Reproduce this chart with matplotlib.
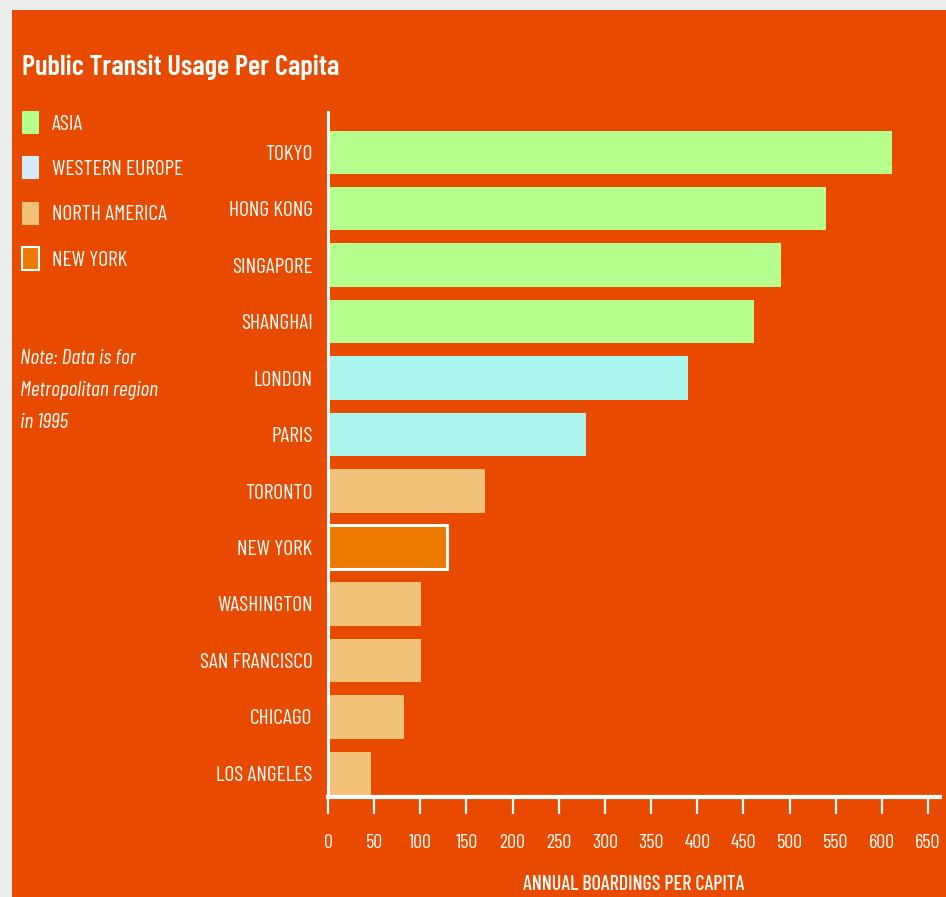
import matplotlib
matplotlib.use("Agg")
import matplotlib.pyplot as plt
import matplotlib.patches as mpatches
from matplotlib import font_manager
import numpy as np

# pick a condensed face if one is installed
available = {f.name for f in font_manager.fontManager.ttflist}
font_choice = 'DejaVu Sans'
for name in ['Barlow Condensed', 'Roboto Condensed', 'Archivo Narrow', 'PT Sans Narrow',
             'Yanone Kaffeesatz', 'Liberation Sans Narrow']:
    if name in available:
        font_choice = name
        break
plt.rcParams['font.family'] = [font_choice, 'DejaVu Sans']

cities = ['TOKYO', 'HONG KONG', 'SINGAPORE', 'SHANGHAI', 'LONDON', 'PARIS',
          'TORONTO', 'NEW YORK', 'WASHINGTON', 'SAN FRANCISCO', 'CHICAGO', 'LOS ANGELES']
boardings = [611, 540, 491, 461, 390, 280, 170, 129, 101, 101, 82, 47]
regions = ['asia', 'asia', 'asia', 'asia', 'europe', 'europe',
           'america', 'newyork', 'america', 'america', 'america', 'america']
x_ticks = [0, 50, 100, 150, 200, 250, 300, 350, 400, 450, 500, 550, 600, 650]

bg = '#E84A00'
bar_colors = {'asia': '#B6FF8E', 'europe': '#AAF5EC', 'america': '#F2C27A', 'newyork': '#EC7A00'}
legend_labels = ['ASIA', 'WESTERN EUROPE', 'NORTH AMERICA', 'NEW YORK']
legend_colors = ['#B6FF8E', '#D4ECF7', '#F2C27A', '#EC7A00']

W, H = 946, 897
fig = plt.figure(figsize=(W / 100, H / 100), dpi=100, facecolor='#EDEDED')
# orange panel
fig.patches.append(mpatches.Rectangle((12 / W, 0), 1, 1 - 10 / H, transform=fig.transFigure,
                                      facecolor=bg, edgecolor='none', zorder=-5))

ax = fig.add_axes([328 / W, 1 - 797 / H, (940 - 328) / W, (797 - 112) / H])
ax.set_zorder(3)
ax.patch.set_alpha(0)

y = np.arange(len(cities))
for i in range(len(cities)):
    if regions[i] == 'newyork':
        ax.barh(y[i], boardings[i], height=0.78, color=bar_colors[regions[i]],
                edgecolor='white', linewidth=2.2, zorder=3)
    else:
        ax.barh(y[i], boardings[i], height=0.77, color=bar_colors[regions[i]],
                edgecolor='none', zorder=2)

ax.set_xlim(0, 663)
ax.set_ylim(11.42, -0.714)

for s in ['top', 'right']:
    ax.spines[s].set_visible(False)
ax.spines['left'].set_color('white')
ax.spines['left'].set_linewidth(2.2)
ax.spines['bottom'].set_color('white')
ax.spines['bottom'].set_linewidth(3)

ax.set_xticks(x_ticks)
ax.set_xticklabels([str(t) for t in x_ticks], color='white', fontsize=14.5)
ax.tick_params(axis='x', direction='out', length=12.5, width=1.6, color='white', pad=14)
ax.set_yticks(y)
ax.set_yticklabels(cities, color='white', fontsize=15.5)
ax.tick_params(axis='y', length=0, pad=11)

ax.set_xlabel('ANNUAL BOARDINGS PER CAPITA', color='white', fontsize=14.5,
              fontweight='medium', labelpad=17)

fig.text(22 / W, 1 - 67 / H, 'Public Transit Usage Per Capita', color='white',
         fontsize=20.5, fontweight='semibold', va='center', ha='left')

handles = []
for c in legend_colors:
    if c == '#EC7A00':
        handles.append(mpatches.Patch(facecolor=c, edgecolor='white', linewidth=1.5))
    else:
        handles.append(mpatches.Patch(facecolor=c, edgecolor='none'))
leg = fig.legend(handles, legend_labels, loc='upper left', bbox_to_anchor=(22 / W, 1 - 111 / H),
                 frameon=False, fontsize=15.5, labelcolor='white', handlelength=0.8,
                 handleheight=1.25, labelspacing=1.05, handletextpad=0.6, borderpad=0,
                 borderaxespad=0)

fig.text(20 / W, 1 - 349 / H, 'Note: Data is for\nMetropolitan region\nin 1995', color='white',
         fontsize=15.5, fontstyle='italic', va='top', ha='left', linespacing=1.85)

fig.savefig('out.png', dpi=100, facecolor=fig.get_facecolor())
